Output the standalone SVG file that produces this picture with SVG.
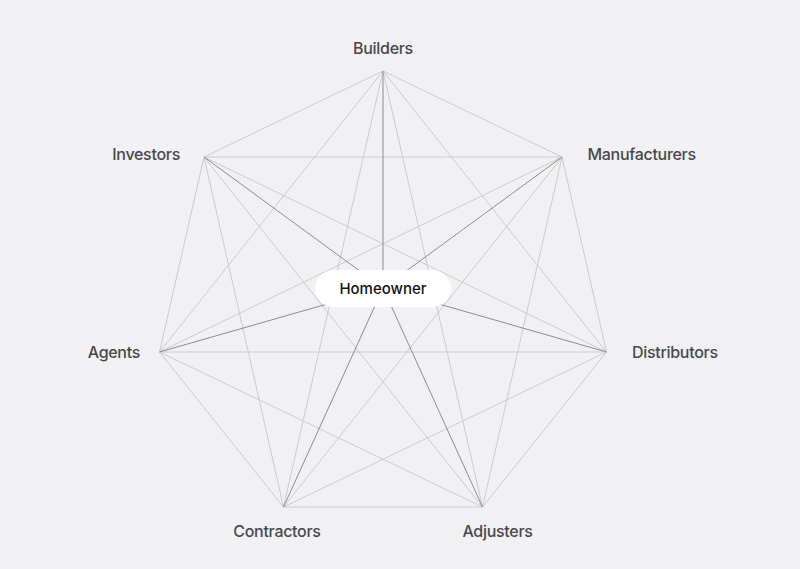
<svg xmlns="http://www.w3.org/2000/svg" width="800" height="569" viewBox="0 0 800 569">
<style>
.bg{fill:#f1f1f3}
.edge{stroke:#cbcbcd;stroke-width:1;fill:none}
.spoke{stroke:#8c8c8e;stroke-width:1;fill:none}
.lbl{font-family:Inter,"Liberation Sans",sans-serif;font-size:16px;font-weight:500;fill:#48484a;letter-spacing:-0.3px}
.hub{fill:#ffffff}
.hubt{font-family:Inter,"Liberation Sans",sans-serif;font-size:15px;font-weight:500;fill:#111111}
</style>
<rect class="bg" x="0" y="0" width="800" height="569"/>
<g id="connectors">
<line class="edge" x1="383" y1="71" x2="562" y2="157"/>
<line class="edge" x1="383" y1="71" x2="606.5" y2="352"/>
<line class="edge" x1="383" y1="71" x2="482.5" y2="507"/>
<line class="edge" x1="383" y1="71" x2="283.5" y2="507"/>
<line class="edge" x1="383" y1="71" x2="159.5" y2="352"/>
<line class="edge" x1="383" y1="71" x2="204" y2="157"/>
<line class="edge" x1="562" y1="157" x2="606.5" y2="352"/>
<line class="edge" x1="562" y1="157" x2="482.5" y2="507"/>
<line class="edge" x1="562" y1="157" x2="283.5" y2="507"/>
<line class="edge" x1="562" y1="157" x2="159.5" y2="352"/>
<line class="edge" x1="562" y1="157" x2="204" y2="157"/>
<line class="edge" x1="606.5" y1="352" x2="482.5" y2="507"/>
<line class="edge" x1="606.5" y1="352" x2="283.5" y2="507"/>
<line class="edge" x1="606.5" y1="352" x2="159.5" y2="352"/>
<line class="edge" x1="606.5" y1="352" x2="204" y2="157"/>
<line class="edge" x1="482.5" y1="507" x2="283.5" y2="507"/>
<line class="edge" x1="482.5" y1="507" x2="159.5" y2="352"/>
<line class="edge" x1="482.5" y1="507" x2="204" y2="157"/>
<line class="edge" x1="283.5" y1="507" x2="159.5" y2="352"/>
<line class="edge" x1="283.5" y1="507" x2="204" y2="157"/>
<line class="edge" x1="159.5" y1="352" x2="204" y2="157"/>
<line class="spoke" x1="383" y1="71" x2="383" y2="288"/>
<line class="spoke" x1="562" y1="157" x2="383" y2="288"/>
<line class="spoke" x1="606.5" y1="352" x2="383" y2="288"/>
<line class="spoke" x1="482.5" y1="507" x2="383" y2="288"/>
<line class="spoke" x1="283.5" y1="507" x2="383" y2="288"/>
<line class="spoke" x1="159.5" y1="352" x2="383" y2="288"/>
<line class="spoke" x1="204" y1="157" x2="383" y2="288"/>
</g>
<g id="homeowner">
<rect class="hub" x="315" y="270" width="136" height="37" rx="18.5"/>
<text class="hubt" x="383" y="294" text-anchor="middle">Homeowner</text>
</g>
<g id="builders"><text class="lbl" x="383" y="54" text-anchor="middle">Builders</text></g>
<g id="manufacturers"><text class="lbl" x="587.5" y="160">Manufacturers</text></g>
<g id="distributors"><text class="lbl" x="632" y="358">Distributors</text></g>
<g id="adjusters"><text class="lbl" x="497.5" y="537" text-anchor="middle">Adjusters</text></g>
<g id="contractors"><text class="lbl" x="277" y="537" text-anchor="middle">Contractors</text></g>
<g id="agents"><text class="lbl" x="140" y="358" text-anchor="end">Agents</text></g>
<g id="investors"><text class="lbl" x="180" y="160" text-anchor="end">Investors</text></g>
</svg>
